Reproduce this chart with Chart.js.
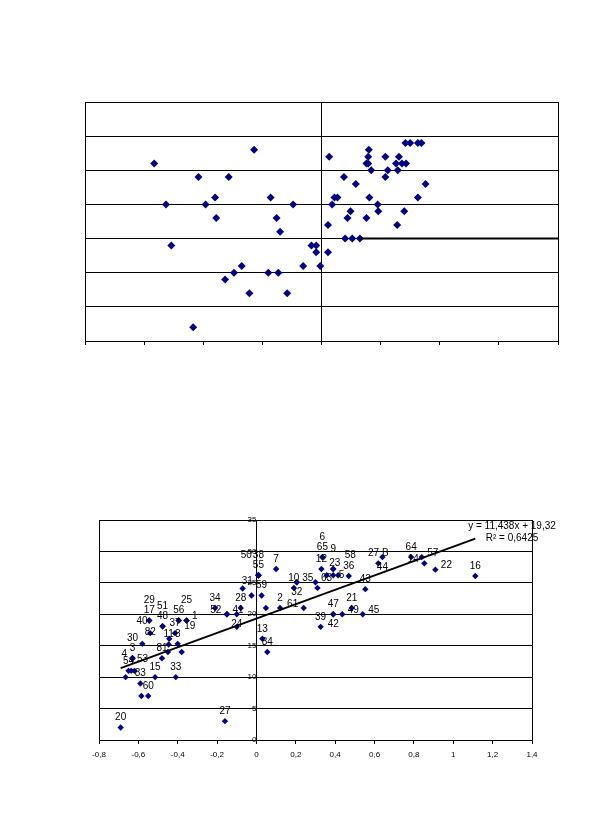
<!DOCTYPE html>
<html>
<head>
<meta charset="utf-8">
<script src="https://cdn.jsdelivr.net/npm/chart.js@4.4.1/dist/chart.umd.min.js"></script>
<style>
body { margin: 0; background: #fff; }
#wrap { position: relative; width: 609px; height: 821px; }
#topBox { position: absolute; left: 0; top: 0; }
#bottomBox { position: absolute; left: 0; top: 480px; }
</style>
</head>
<body>
<div id="wrap">
  <div id="topBox"><canvas id="topChart" width="609" height="360"></canvas></div>
  <div id="bottomBox"><canvas id="bottomChart" width="609" height="300"></canvas></div>
</div>
<script>
//Top chart: no printed scale, x counted in ticks (-4..4), y in 0..35
const topX = [-2.83, -2.63, -2.54, -2.17, -2.08, -1.96, -1.80, -1.78, -1.63, -1.57, -1.48, -1.35, -1.22,
    -1.14, -0.90, -0.86, -0.76, -0.73, -0.70, -0.58, -0.48, -0.31, -0.17, -0.09, -0.09, -0.02,
    0.11, 0.11, 0.13, 0.18, 0.22, 0.27, 0.38, 0.40, 0.52, 0.65, 0.44, 0.49, 0.58, 0.76, 0.76, 0.79,
    0.80, 0.79, 0.81, 0.84, 0.95, 0.96, 1.08, 1.08, 1.12, 1.26, 1.28, 1.29, 1.31, 1.36, 1.43, 1.40,
    1.42, 1.50, 1.63, 1.69, 1.63, 1.76];
const topY = [26, 20, 14, 2, 24, 20, 21, 18, 9, 24, 10, 11, 7,
    28, 10, 21, 18, 10, 16, 7, 20, 11, 14, 14, 13, 11,
    13, 17, 27, 20, 21, 21, 24, 15, 15, 15, 18, 19, 23, 18, 26, 26,
    28, 27, 21, 25, 20, 19, 24, 27, 25, 26, 17, 25, 27, 26, 26, 19,
    29, 29, 29, 29, 21, 23];
const topLevelY = 15;
const topLevelFrom = 0.65;

//Bottom chart: numbered points
const pointNames = ['20', '27', '', '60', '83', '', '15', '33', '54', '', '53', '3', '30', '4', '81', '', '',
    '82', '11', '8', '', '40', '37', '48', '51', '17', '29', '56', '19', '1', '25',
    '34', '52', '41', '24', '28', '', '', '', '59', '55', '31', '38', '50', '7', '', '2', '13', '84',
    '10', '35', '32', '61', '63', '', '12', '65', '6', '23', '5', '9', '', '58', '36', '39', '47', '42',
    '49', '45', '21', '43', '27 B', '44', '64', '57', '14', '22', '16'];
const pointX = [-0.69, -0.16, -0.585, -0.55, -0.59, -0.665, -0.515, -0.41, -0.65, -0.636, -0.62, -0.63, -0.63, -0.63, -0.48, -0.45, -0.38,
    -0.58, -0.446, -0.40, -0.443, -0.54, -0.414, -0.477, -0.477, -0.545, -0.545, -0.395, -0.395, -0.355, -0.355,
    -0.21, -0.15, -0.15, -0.10, -0.08, -0.10, -0.07, -0.025, 0.026, 0.01, 0.01, 0.01, 0.01, 0.10, 0.048, 0.12, 0.03, 0.055,
    0.19, 0.205, 0.205, 0.24, 0.30, 0.31, 0.33, 0.335, 0.335, 0.357, 0.39, 0.39, 0.39, 0.415, 0.469, 0.326, 0.39, 0.39,
    0.436, 0.54, 0.484, 0.553, 0.619, 0.64, 0.786, 0.84, 0.853, 0.909, 1.112];
const pointY = [2, 3, 7, 7, 9, 10, 10, 10, 11, 11, 11, 13, 13, 13, 13, 14, 14,
    15.3, 15.2, 15.3, 16.1, 17, 17, 18.1, 18.1, 19, 19, 19, 19, 19, 19,
    21, 20, 20, 20, 21, 18, 24.1, 23, 23, 26.2, 26.2, 26.2, 26.2, 27.2, 21, 21, 16.1, 14,
    24.2, 25.1, 25.1, 21, 25.1, 24.2, 27.2, 29.1, 29.1, 26.2, 27.2, 27.2, 26.2, 26.2, 26.1, 18, 20, 20,
    20, 20, 21, 24, 28.1, 29.1, 29.1, 29.1, 28.1, 27.1, 26.1];
const trendSlope = 11.438;
const trendIntercept = 19.32;
const trendR2 = 0.6425;

const navy = '#000080';
const labelFont = '10px "Liberation Sans", Arial, sans-serif';

function comma(v) {
    return String(Number(v.toFixed(4))).replace('.', ',');
}

//black frame round the plot area
const frame = {
    id: 'frame',
    afterDraw(chart) {
        const {ctx, chartArea: a} = chart;
        ctx.save();
        ctx.strokeStyle = '#000';
        ctx.lineWidth = 1;
        ctx.strokeRect(Math.round(a.left) + 0.5, Math.round(a.top) + 0.5,
            Math.round(a.right - a.left), Math.round(a.bottom - a.top));
        ctx.restore();
    }
};

//Top Chart
new Chart(document.getElementById('topChart'), {
    type: 'scatter',
    data: {
        datasets: [{
            type: 'line',
            data: [{x: topLevelFrom, y: topLevelY}, {x: 4, y: topLevelY}],
            borderColor: '#000',
            borderWidth: 2,
            pointRadius: 0,
        }, {
            data: topX.map((x, i) => ({x: x, y: topY[i]})),
            pointStyle: 'rectRot',
            radius: 4,
            backgroundColor: navy,
            borderColor: navy,
            borderWidth: 0,
        }]
    },
    options: {
        responsive: false,
        animation: false,
        devicePixelRatio: 1,
        layout: {padding: {left: 85, top: 102, right: 51, bottom: 0}},
        plugins: {legend: {display: false}, tooltip: {enabled: false}},
        scales: {
            x: {
                type: 'linear', min: -4, max: 4, position: 'bottom',
                ticks: {display: false, stepSize: 1},
                grid: {drawOnChartArea: false, color: '#000', tickLength: 4},
                border: {color: '#000'},
                afterFit: s => { s.height = 19; },
            },
            y: {
                min: 0, max: 35, position: {x: 0},
                ticks: {display: false, stepSize: 5},
                grid: {color: '#000', drawTicks: false},
                border: {color: '#000'},
            }
        }
    },
    plugins: [frame],
});

//numbers next to the points, moved aside when they would overlap
const pointLabels = {
    id: 'pointLabels',
    afterDatasetsDraw(chart) {
        const {ctx} = chart;
        const meta = chart.getDatasetMeta(1);
        const boxes = [];
        const overlap = b => boxes.reduce((sum, o) =>
            sum + Math.max(0, Math.min(b.r, o.r) - Math.max(b.l, o.l)) * Math.max(0, Math.min(b.b, o.b) - Math.max(b.t, o.t)), 0);
        ctx.save();
        ctx.font = labelFont;
        ctx.fillStyle = '#000';
        ctx.textAlign = 'center';
        ctx.textBaseline = 'middle';
        meta.data.forEach((pt, i) => {
            const text = pointNames[i];
            if (!text) return;
            const w = ctx.measureText(text).width + 1, h = 9;
            const spots = [[0, -10], [-(w / 2 + 5), -4], [w / 2 + 5, -4],
                [-(w / 2 + 2), -12], [w / 2 + 2, -12], [0, 10],
                [-(w / 2 + 5), 6], [w / 2 + 5, 6], [0, -20], [-w, -20], [w, -20]];
            let best = null, bestScore = Infinity;
            for (const s of spots) {
                const cx = pt.x + s[0], cy = pt.y + s[1];
                const b = {l: cx - w / 2, r: cx + w / 2, t: cy - h / 2, b: cy + h / 2};
                const score = overlap(b);
                if (score < bestScore) {
                    bestScore = score;
                    best = {cx, cy, b};
                }
                if (score === 0) break;
            }
            boxes.push(best.b);
            ctx.fillText(text, best.cx, best.cy);
        });
        ctx.restore();
    }
};

//trendline equation in the top right corner
const trendText = {
    id: 'trendText',
    afterDraw(chart) {
        const {ctx, chartArea: a} = chart;
        ctx.save();
        ctx.font = labelFont;
        ctx.fillStyle = '#000';
        ctx.textAlign = 'center';
        ctx.textBaseline = 'middle';
        const cx = a.right - 20;
        ctx.fillText('y = ' + comma(trendSlope) + 'x + ' + comma(trendIntercept), cx, a.top + 6);
        ctx.fillText('R\u00B2 = ' + comma(trendR2), cx, a.top + 18);
        ctx.restore();
    }
};

//Bottom Chart
const xMin = Math.min(...pointX);
const xMax = Math.max(...pointX);
new Chart(document.getElementById('bottomChart'), {
    type: 'scatter',
    data: {
        datasets: [{
            type: 'line',
            data: [{x: xMin, y: trendSlope * xMin + trendIntercept}, {x: xMax, y: trendSlope * xMax + trendIntercept}],
            borderColor: '#000',
            borderWidth: 2,
            pointRadius: 0,
        }, {
            data: pointX.map((x, i) => ({x: x, y: pointY[i]})),
            pointStyle: 'rectRot',
            radius: 3.2,
            backgroundColor: navy,
            borderColor: navy,
            borderWidth: 0,
        }]
    },
    options: {
        responsive: false,
        animation: false,
        devicePixelRatio: 1,
        layout: {padding: {left: 99, top: 40, right: 77, bottom: 0}},
        plugins: {legend: {display: false}, tooltip: {enabled: false}},
        scales: {
            x: {
                type: 'linear', min: -0.8, max: 1.4, position: 'bottom',
                ticks: {
                    stepSize: 0.2, color: '#000', padding: 6, maxRotation: 0, autoSkip: false,
                    font: {family: '"Liberation Sans", Arial, sans-serif', size: 8},
                    callback: v => comma(v),
                },
                grid: {drawOnChartArea: false, color: '#000', tickLength: 4},
                border: {color: '#000'},
                afterFit: s => { s.height = 40; },
            },
            y: {
                min: 0, max: 35, position: {x: 0},
                ticks: {
                    stepSize: 5, color: '#000', padding: 4,
                    font: {family: '"Liberation Sans", Arial, sans-serif', size: 8},
                },
                grid: {color: '#000', tickLength: 2},
                border: {color: '#000'},
            }
        }
    },
    plugins: [frame, pointLabels, trendText],
});
</script>
</body>
</html>
